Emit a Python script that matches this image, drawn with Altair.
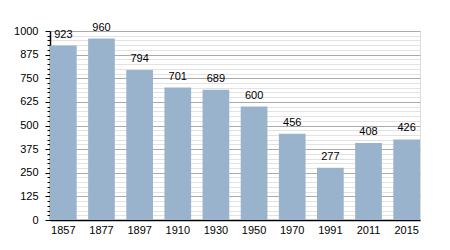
import altair as alt
import pandas as pd

years = ["1857", "1877", "1897", "1910", "1930", "1950", "1970", "1991", "2011", "2015"]
population = [923, 960, 794, 701, 689, 600, 456, 277, 408, 426]
y_ticks = list(range(0, 1001, 25))

df = pd.DataFrame({"year": years, "pop": population})

font = "Liberation Sans"

x = alt.X("year:N", sort=years, title=None,
          scale=alt.Scale(paddingInner=0.3, paddingOuter=0),
          axis=alt.Axis(labelAngle=0, ticks=False, domainColor="#000", domainWidth=1.5,
                        labelFont=font, labelFontSize=11, labelColor="#000", labelPadding=4))
y = alt.Y("pop:Q", title=None, scale=alt.Scale(domain=[0, 1000], nice=False, zero=True),
          axis=alt.Axis(values=y_ticks, format="d", labelOverlap=False,
                        labelExpr="datum.value % 125 === 0 ? datum.label : ''",
                        grid=True,
                        gridColor={"condition": {"test": "datum.value % 125 === 0", "value": "#aaaaaa"}, "value": "#e2e2e2"},
                        gridWidth=1,
                        tickColor="#000",
                        tickSize={"condition": {"test": "datum.value % 125 === 0", "value": 5}, "value": 3},
                        domainColor="#000", domainWidth=1.5,
                        labelFont=font, labelFontSize=11, labelColor="#000", labelPadding=7))

base = alt.Chart(df).encode(x=x, y=y)
bars = base.mark_bar(color="#9ab3cd")
labels = base.mark_text(dy=-6, baseline="bottom", font=font, fontSize=11, color="#000").encode(text="pop:Q")

chart = alt.layer(bars, labels).properties(
    width=370, height=189,
    autosize=alt.AutoSizeParams(type="none"),
    padding={"left": 50, "top": 31, "right": 30, "bottom": 30},
).configure_view(stroke=None).configure(background="white")

chart.save("out.html", embed_options={"renderer": "svg", "actions": False})
